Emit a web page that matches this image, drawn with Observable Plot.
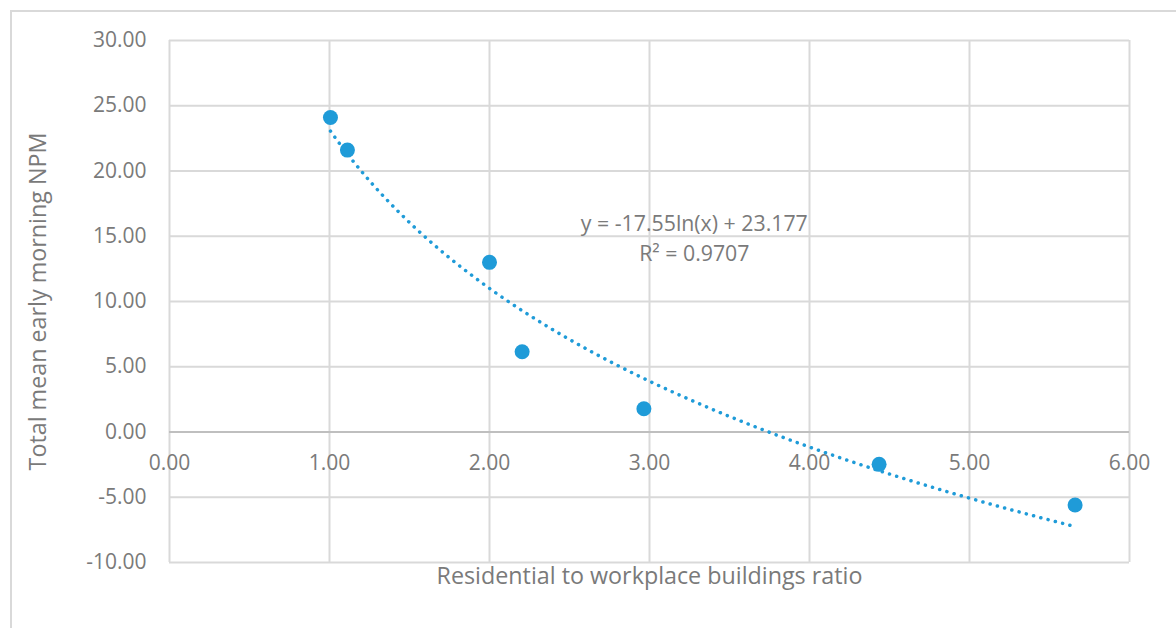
<!DOCTYPE html>
<html>
<head>
<meta charset="utf-8">
<script src="https://cdn.jsdelivr.net/npm/d3@7"></script>
<script src="https://cdn.jsdelivr.net/npm/@observablehq/plot@0.6"></script>
<style>
  html, body { margin: 0; padding: 0; background: #fff; }
  #wrap { position: relative; width: 1176px; height: 628px; overflow: hidden; }
  #border { position: absolute; left: 10px; top: 10px; width: 1200px; height: 700px; border: 2px solid #d9d9d9; box-sizing: border-box; }
  #chart { position: absolute; left: 0; top: 0; }
</style>
</head>
<body>
<div id="wrap"><div id="border"></div><div id="chart"></div></div>
<script>
// Data
const ratio = [1.006, 1.112, 2.0, 2.204, 2.965, 4.435, 5.66];
const npm   = [24.1, 21.6, 13.0, 6.15, 1.78, -2.48, -5.59];
const xTicks = [0, 1, 2, 3, 4, 5, 6];
const yTicks = [-10, -5, 0, 5, 10, 15, 20, 25, 30];
const eqLines = ["y = -17.55ln(x) + 23.177", "R² = 0.9707"];
const eqPos = {x: 3.28, y: [15.95, 13.65]};

const points = ratio.map((x, i) => ({x, y: npm[i]}));

// Logarithmic least-squares trendline fitted to the points
const lx = ratio.map(Math.log);
const mx = d3.mean(lx), my = d3.mean(npm);
const slope = d3.sum(lx, (v, i) => (v - mx) * (npm[i] - my)) / d3.sum(lx, v => (v - mx) ** 2);
const intercept = my - slope * mx;
const [x0, x1] = d3.extent(ratio);
const trend = d3.range(0, 201).map(k => {
  const x = x0 + (x1 - x0) * k / 200;
  return {x, y: intercept + slope * Math.log(x)};
});

const font = "'Open Sans', sans-serif";
const gray = "#7a7a7a";

const chart = Plot.plot({
  width: 1176,
  height: 628,
  marginLeft: 169,
  marginRight: 47,
  marginTop: 40,
  marginBottom: 66,
  style: {fontFamily: font, fontSize: "21px", color: gray, background: "transparent"},
  x: {domain: [0, 6], ticks: xTicks, axis: null},
  y: {domain: [-10, 30], ticks: yTicks, axis: null},
  marks: [
    Plot.gridX(xTicks, {stroke: "#d9d9d9", strokeOpacity: 1, strokeWidth: 2}),
    Plot.gridY(yTicks, {stroke: "#d9d9d9", strokeOpacity: 1, strokeWidth: 2}),
    Plot.ruleY([0], {stroke: "#bfbfbf", strokeWidth: 2}),
    Plot.axisY(yTicks, {tickSize: 0, tickPadding: 23, tickFormat: d => d.toFixed(2), fontSize: 21, fill: gray, label: null}),
    Plot.text(xTicks, {x: d => d, y: () => 0, dy: 31, text: d => d.toFixed(2), fontSize: 21, fill: gray}),
    Plot.text(["Residential to workplace buildings ratio"], {frameAnchor: "bottom", dy: 21, fontSize: 23.3, fill: gray}),
    Plot.text(["Total mean early morning NPM"], {frameAnchor: "left", textAnchor: "middle", dx: -131, rotate: -90, fontSize: 23.3, fill: gray}),
    Plot.line(trend, {x: "x", y: "y", stroke: "#1f9bd8", strokeWidth: 3.5, strokeDasharray: "0.1 7.4", strokeLinecap: "round"}),
    Plot.dot(points, {x: "x", y: "y", r: 7.5, fill: "#1f9bd8", stroke: "none"}),
    Plot.text(eqLines, {x: () => eqPos.x, y: (d, i) => eqPos.y[i], text: d => d, fontSize: 21.3, fill: gray})
  ]
});
document.getElementById("chart").appendChild(chart);
</script>
</body>
</html>
